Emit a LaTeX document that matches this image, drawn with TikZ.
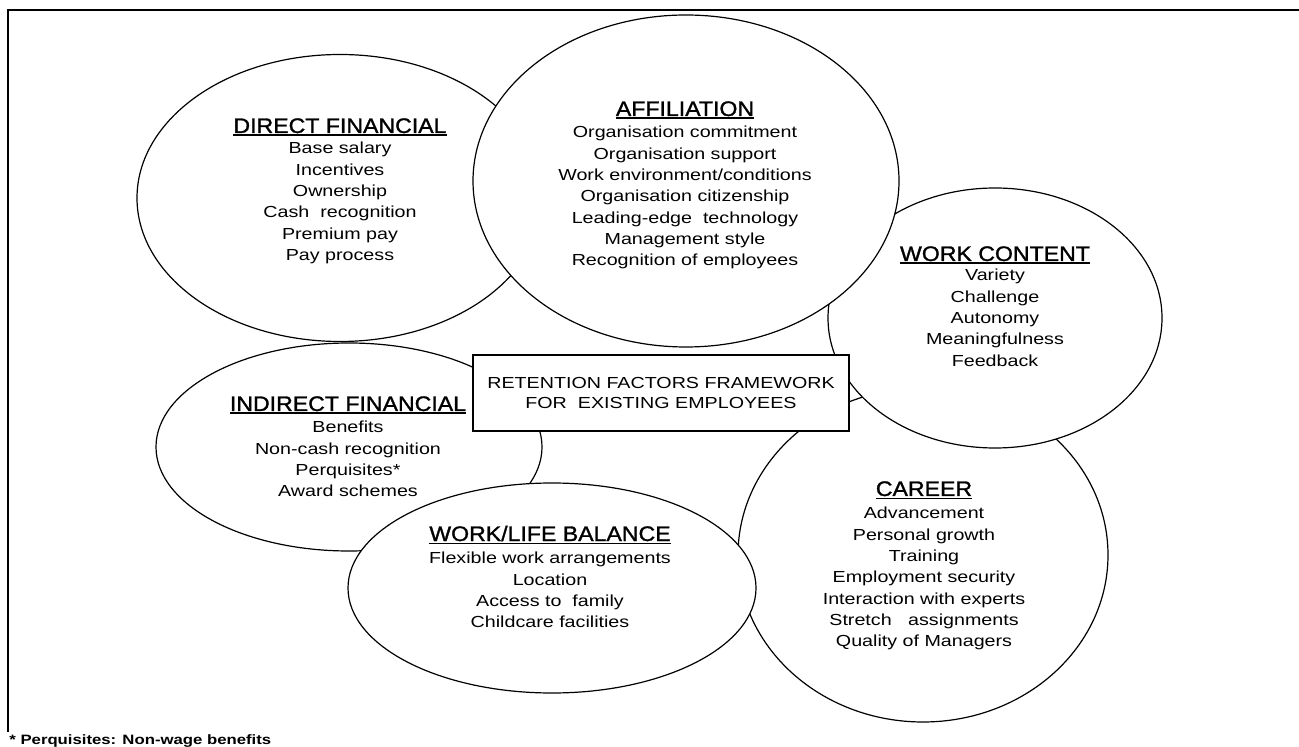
\documentclass[tikz,border=0pt]{standalone}
\usepackage{fontspec}
\setmainfont{Liberation Sans}[FakeStretch=1.23]
\newfontfamily\headfont{Liberation Sans}[FakeStretch=1.1,FakeBold=1.3]
\usetikzlibrary{shapes.geometric}
\newcommand{\ulhead}[1]{\setbox0=\hbox{#1}\rlap{\rule[-1.6pt]{\wd0}{0.85pt}}\box0}

\begin{document}
\begin{tikzpicture}[x=0.5pt,y=-0.5pt,
    factor/.style={ellipse,draw,fill=white,line width=0.6pt,inner sep=0pt},
    heading/.style={inner sep=0pt,anchor=base,font=\headfont\fontsize{10.5}{12}\selectfont},
    items/.style={inner sep=0pt,anchor=north,align=center,font=\fontsize{8}{10.65}\selectfont},
    core/.style={rectangle,draw,fill=white,line width=0.6pt,align=center,
        minimum width=188pt,minimum height=38pt,font=\fontsize{8}{10}\selectfont}]
    \useasboundingbox (0,0) rectangle (1299,747);

    % Frame
    \coordinate (corner) at (8,10);
    \draw[line width=0.6pt] (8,732) -- (corner) -- (1299,10);

    % Factors
    \node[factor,minimum width=203pt,minimum height=143.5pt] (direct) at (340,198) {};
    \node[heading] (directhead) at (340,133) {\ulhead{DIRECT FINANCIAL}};
    \node[items] (directlist) at (340,142) {Base salary\\Incentives\\Ownership\\Cash\ \ recognition\\Premium pay\\Pay process};

    \node[factor,minimum width=193pt,minimum height=104pt] (indirect) at (349,447) {};
    \node[heading] (indirecthead) at (348,411) {\ulhead{INDIRECT FINANCIAL}};
    \node[items] (indirectlist) at (348,421) {Benefits\\Non-cash recognition\\Perquisites*\\Award schemes};

    \node[factor,minimum width=185pt,minimum height=167pt] (career) at (923,555) {};
    \node[heading] (careerhead) at (924,496) {\ulhead{CAREER}};
    \node[items] (careerlist) at (924,507) {Advancement\\Personal growth\\Training\\Employment security\\Interaction with experts\\Stretch\ \ \ assignments\\Quality of Managers};

    \node[factor,minimum width=167pt,minimum height=130pt] (content) at (995,318) {};
    \node[heading] (contenthead) at (995,261) {\ulhead{WORK CONTENT}};
    \node[items] (contentlist) at (995,269) {Variety\\Challenge\\Autonomy\\Meaningfulness\\Feedback};

    \node[factor,minimum width=213pt,minimum height=166pt] (affil) at (686,181) {};
    \node[heading] (affilhead) at (685,116) {\ulhead{AFFILIATION}};
    \node[items] (affillist) at (685,126) {Organisation commitment\\Organisation support\\Work environment/conditions\\Organisation citizenship\\Leading-edge\ \ technology\\Management style\\Recognition of employees};

    \node[factor,minimum width=204pt,minimum height=105pt] (balance) at (552,588) {};
    \node[heading] (balancehead) at (550,541) {\ulhead{WORK/LIFE BALANCE}};
    \node[items] (balancelist) at (550,552) {Flexible work arrangements\\Location\\Access to\ \ family\\Childcare facilities};

    % Framework box
    \node[core] (framework) at (661,393) {RETENTION FACTORS FRAMEWORK\\FOR\ \ EXISTING EMPLOYEES};

    % Footnote
    \node[anchor=base west,inner sep=0pt,font=\bfseries\fontsize{6.8}{8}\selectfont] (note) at (9,744) {* Perquisites: Non-wage benefits};
\end{tikzpicture}
\end{document}
